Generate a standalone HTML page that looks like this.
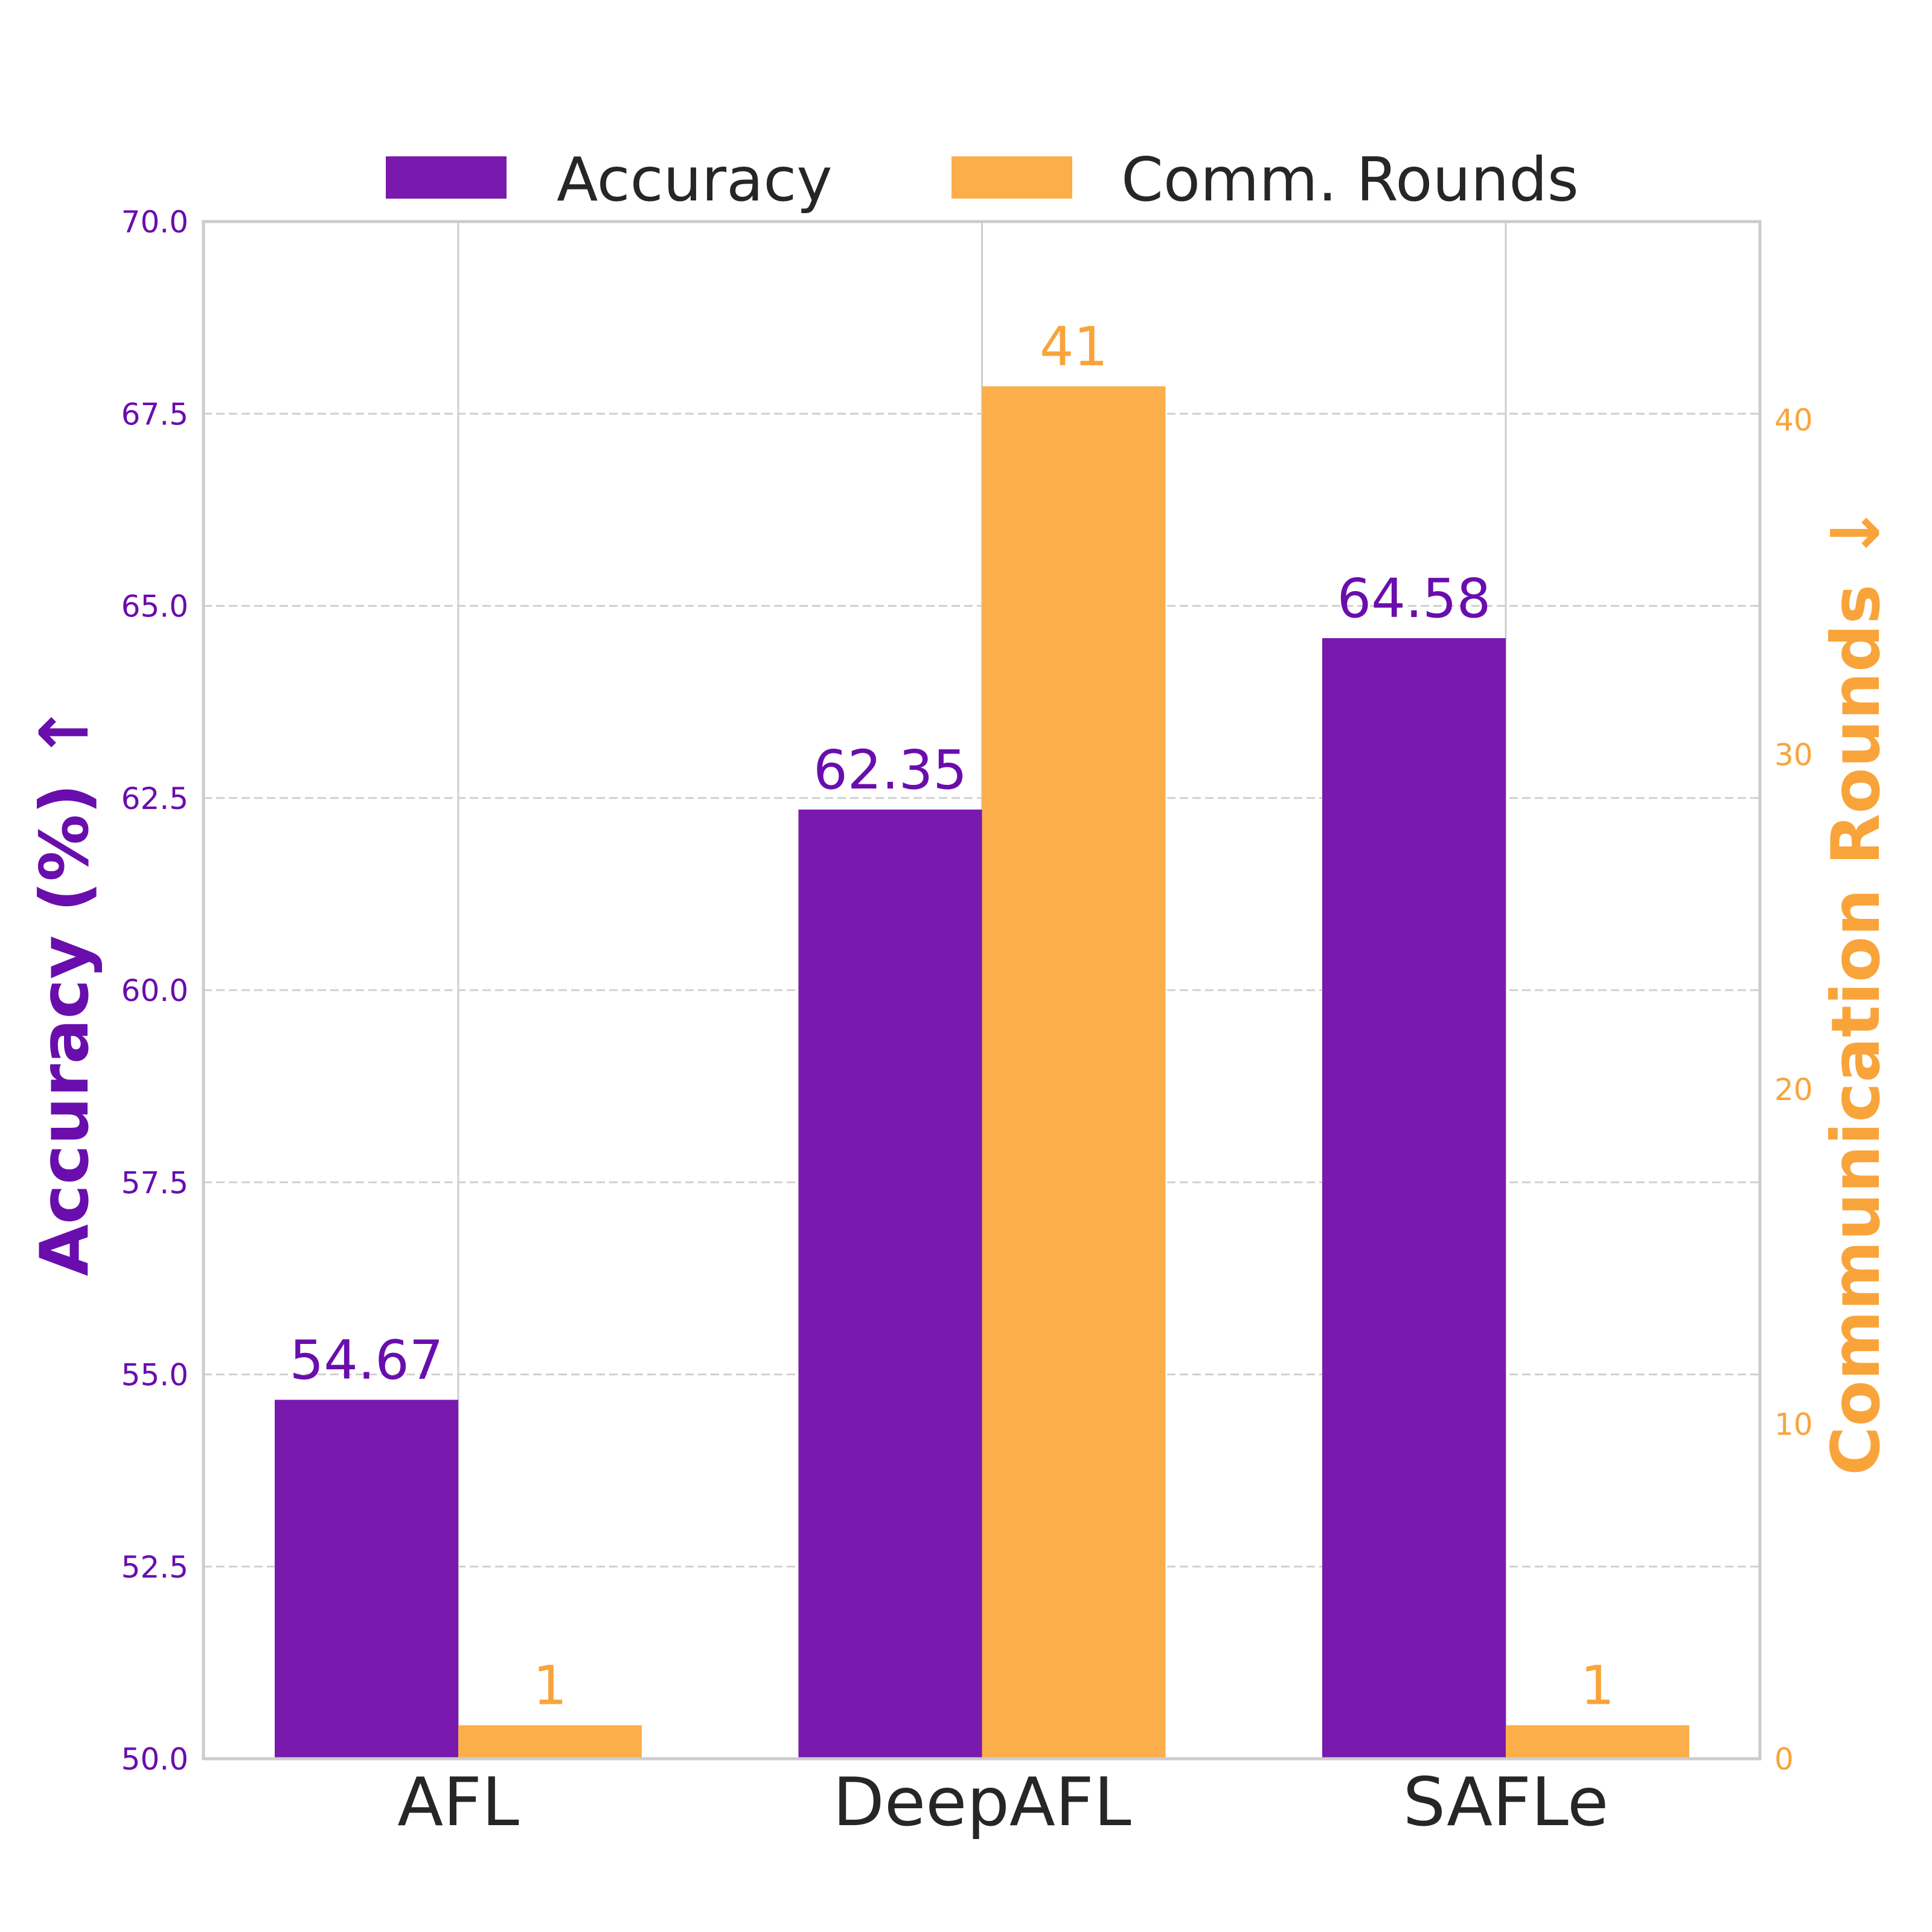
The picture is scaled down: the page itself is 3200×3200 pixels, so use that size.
<!DOCTYPE html>
<html><head><meta charset="utf-8"><style>
html,body{margin:0;padding:0;background:#fff}
svg{display:block;font-family:"DejaVu Sans","Liberation Sans",sans-serif}
</style></head><body>
<svg id="chart" width="3200" height="3200" viewBox="0 0 3200 3200" xmlns="http://www.w3.org/2000/svg"></svg>
<script>
const categories = ["AFL", "DeepAFL", "SAFLe"];
const accuracy = [54.67, 62.35, 64.58];
const accLabels = ["54.67", "62.35", "64.58"];
const rounds = [1, 41, 1];
const roundLabels = ["1", "41", "1"];
const leftTicks = [50.0, 52.5, 55.0, 57.5, 60.0, 62.5, 65.0, 67.5, 70.0];
const leftTickLabels = ["50.0","52.5","55.0","57.5","60.0","62.5","65.0","67.5","70.0"];
const rightTicks = [0, 10, 20, 30, 40];
const rightTickLabels = ["0","10","20","30","40"];

const NS = "http://www.w3.org/2000/svg";
const svg = document.getElementById("chart");
const L = 337, R = 2915, T = 367, B = 2913;
const yAcc = v => B - (v - 50) / 20 * (B - T);
const rMax = 45.92;
const yR = v => B - v / rMax * (B - T);
const xCat = i => 759 + i * 867.5;
const bw = 304;
const PURPLE = "#7a19ad", PTXT = "#6a0dad", ORANGE = "#fcae4b", OTXT = "#f9a43a";

function el(tag, attrs, parent) {
  const e = document.createElementNS(NS, tag);
  for (const k in attrs) e.setAttribute(k, attrs[k]);
  (parent || svg).appendChild(e);
  return e;
}
function txt(s, attrs) { const e = el("text", attrs); e.textContent = s; return e; }

leftTicks.forEach((t, i) => {
  if (i === 0 || i === leftTicks.length - 1) return;
  const g = el("line", {x1: L, x2: R, y1: yAcc(t), y2: yAcc(t), stroke: "#d0d0d0", "stroke-width": 3, "stroke-dasharray": "14,7"});
  
  
});
categories.forEach((c, i) => {
  const g = el("line", {x1: xCat(i), x2: xCat(i), y1: T, y2: B, stroke: "#cfcfcf", "stroke-width": 3});
  
  
});

categories.forEach((c, i) => {
  const ya = yAcc(accuracy[i]);
  const b1 = el("rect", {x: xCat(i) - bw, y: ya, width: bw, height: B - ya, fill: PURPLE});
  
  
  const t1 = txt(accLabels[i], {x: xCat(i) - bw / 2, y: ya - 35, "text-anchor": "middle", "font-size": 89, fill: PTXT});
  
  
  const yr = yR(rounds[i]);
  const b2 = el("rect", {x: xCat(i), y: yr, width: bw, height: B - yr, fill: ORANGE});
  
  
  const t2 = txt(roundLabels[i], {x: xCat(i) + bw / 2, y: yr - 35, "text-anchor": "middle", "font-size": 89, fill: OTXT});
  
  
  const cl = txt(c, {x: xCat(i), y: B + 110, "text-anchor": "middle", "font-size": 111, fill: "#262626"});
  
  
});

const sp = el("rect", {x: L, y: T, width: R - L, height: B - T, fill: "none", stroke: "#cccccc", "stroke-width": 5});



leftTicks.forEach((t, i) => {
  const e = txt(leftTickLabels[i], {x: 312, y: yAcc(t) + 18, "text-anchor": "end", "font-size": 50, fill: PTXT});
  
  
});
rightTicks.forEach((t, i) => {
  const e = txt(rightTickLabels[i], {x: 2939, y: yR(t) + 18, "text-anchor": "start", "font-size": 50, fill: OTXT});
  
  
});

const lt = txt("Accuracy (%) ↑", {x: 0, y: 0, "text-anchor": "middle", "font-size": 111, "font-weight": "bold", fill: PTXT, transform: "translate(145,1640) rotate(-90)"});


const rt = txt("Communication Rounds ↓", {x: 0, y: 0, "text-anchor": "middle", "font-size": 111, "font-weight": "bold", fill: OTXT, transform: "translate(3112,1640) rotate(-90)"});



const lp1 = el("rect", {x: 639, y: 259, width: 200, height: 70, fill: PURPLE});


const lx1 = txt("Accuracy", {x: 922, y: 332, "font-size": 100, fill: "#262626"});


const lp2 = el("rect", {x: 1576, y: 259, width: 200, height: 70, fill: ORANGE});


const lx2 = txt("Comm. Rounds", {x: 1857, y: 332, "font-size": 100, fill: "#262626"});


</script>
</body></html>
